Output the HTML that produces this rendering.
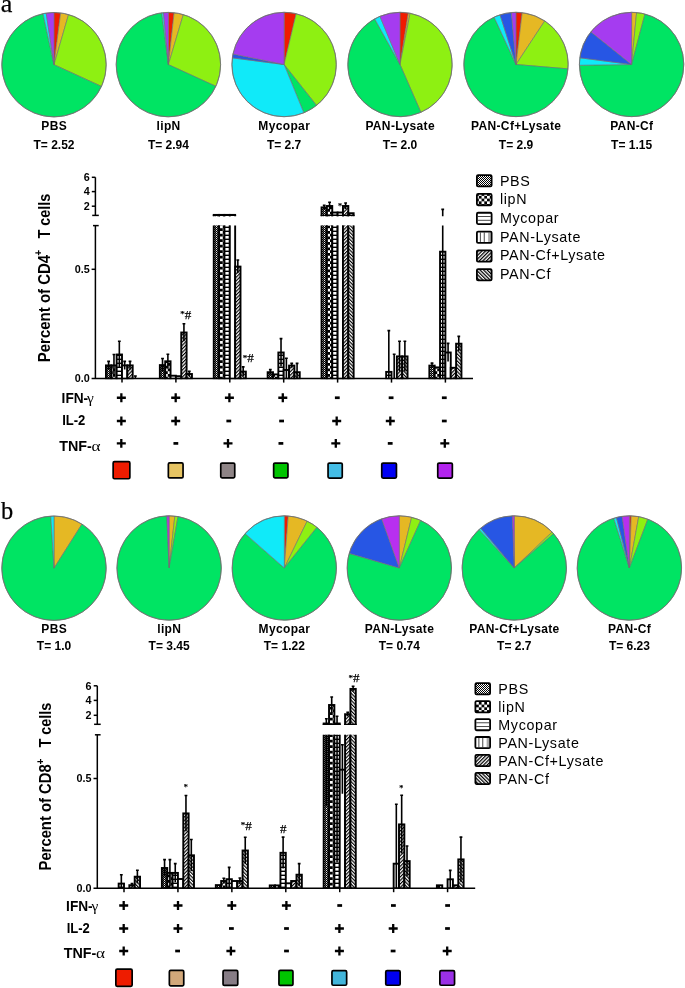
<!DOCTYPE html>
<html><head><meta charset="utf-8"><style>
html,body{margin:0;padding:0;background:#fff;}
svg{display:block;will-change:transform;}
text{font-family:"Liberation Sans",sans-serif;fill:#000;}
.pl{font-weight:bold;font-size:12px;text-anchor:middle;}
.tk{font-weight:bold;font-size:10.8px;text-anchor:end;}
.yl{font-weight:bold;font-size:16.6px;}
.ylp{font-weight:bold;font-size:10px;text-anchor:middle;}
.lg{font-size:14.3px;letter-spacing:0.65px;}
.rl{font-weight:bold;font-size:14.2px;}
.sym{font-family:"Liberation Serif",serif;font-weight:normal;font-size:15.5px;}
.an{font-family:"Liberation Serif",serif;font-size:11px;stroke:#000;stroke-width:0.25px;}
.big{font-family:"Liberation Serif",serif;font-size:23px;}
</style></head>
<body><svg width="685" height="988" viewBox="0 0 685 988">
<defs>
<pattern id="pPBS" width="2" height="2" patternUnits="userSpaceOnUse"><rect width="2" height="2" fill="#000"/><rect width="1" height="1" fill="#fff" opacity="0.9"/><rect x="1" y="1" width="1" height="1" fill="#fff" opacity="0.35"/></pattern>
<pattern id="pLip" width="5.5" height="5.5" patternUnits="userSpaceOnUse"><rect width="5.5" height="5.5" fill="#000"/><rect width="2.75" height="2.75" fill="#fff"/><rect x="2.75" y="2.75" width="2.75" height="2.75" fill="#fff"/></pattern>
<pattern id="pMyc" width="4" height="4" patternUnits="userSpaceOnUse"><rect width="4" height="4" fill="#fff"/><rect y="2.6" width="4" height="1.4" fill="#000"/></pattern>
<pattern id="pLys" width="4" height="4" patternUnits="userSpaceOnUse"><rect width="4" height="4" fill="#fff"/></pattern>
<pattern id="pCfL" width="2.5" height="2.5" patternUnits="userSpaceOnUse" patternTransform="rotate(45)"><rect width="2.5" height="2.5" fill="#fff"/><rect width="1.15" height="2.5" fill="#000"/></pattern>
<pattern id="pCf" width="2.5" height="2.5" patternUnits="userSpaceOnUse" patternTransform="rotate(-45)"><rect width="2.5" height="2.5" fill="#fff"/><rect width="1.15" height="2.5" fill="#000"/></pattern>
<pattern id="lpPBS" width="2" height="2" patternUnits="userSpaceOnUse"><rect width="2" height="2" fill="#fff"/><rect width="1" height="1" fill="#000"/><rect x="1" y="1" width="1" height="1" fill="#000"/></pattern>
<pattern id="lpLip" width="5.5" height="5.5" patternUnits="userSpaceOnUse" x="0.3" y="0.6"><rect width="5.5" height="5.5" fill="#000"/><rect width="2.75" height="2.75" fill="#fff"/><rect x="2.75" y="2.75" width="2.75" height="2.75" fill="#fff"/></pattern>
<pattern id="lpMyc" width="4" height="3.6" patternUnits="userSpaceOnUse"><rect width="4" height="3.6" fill="#fff"/><rect y="2.6" width="4" height="1" fill="#000"/></pattern>
<pattern id="lpLys" width="3.8" height="4" patternUnits="userSpaceOnUse"><rect width="3.8" height="4" fill="#fff"/><rect x="2.8" width="1" height="4" fill="#000"/></pattern>
<pattern id="lpCfL" width="2.55" height="2.55" patternUnits="userSpaceOnUse" patternTransform="rotate(45)"><rect width="2.55" height="2.55" fill="#fff"/><rect width="1.25" height="2.55" fill="#000"/></pattern>
<pattern id="lpCf" width="2.55" height="2.55" patternUnits="userSpaceOnUse" patternTransform="rotate(-45)"><rect width="2.55" height="2.55" fill="#fff"/><rect width="1.25" height="2.55" fill="#000"/></pattern>
</defs>
<text x="0.8" y="11.5" class="big" style="font-size:25.5px" textLength="11.6" lengthAdjust="spacingAndGlyphs" stroke="#000" stroke-width="0.25">a</text>
<path d="M54.00,64.70 L54.00,12.50 A52.2,52.2 0 0 1 60.63,12.92 Z" fill="#F01B00" stroke="#6e6e6e" stroke-width="0.6" stroke-linejoin="round"/>
<path d="M54.00,64.70 L60.63,12.92 A52.2,52.2 0 0 1 68.56,14.57 Z" fill="#E5B824" stroke="#6e6e6e" stroke-width="0.6" stroke-linejoin="round"/>
<path d="M54.00,64.70 L68.56,14.57 A52.2,52.2 0 0 1 101.46,86.43 Z" fill="#8EF012" stroke="#6e6e6e" stroke-width="0.6" stroke-linejoin="round"/>
<path d="M54.00,64.70 L101.46,86.43 A52.2,52.2 0 1 1 43.06,13.66 Z" fill="#00E463" stroke="#6e6e6e" stroke-width="0.6" stroke-linejoin="round"/>
<path d="M54.00,64.70 L43.06,13.66 A52.2,52.2 0 0 1 46.19,13.09 Z" fill="#10EAF9" stroke="#6e6e6e" stroke-width="0.6" stroke-linejoin="round"/>
<path d="M54.00,64.70 L46.19,13.09 A52.2,52.2 0 0 1 54.00,12.50 Z" fill="#A53CF0" stroke="#6e6e6e" stroke-width="0.6" stroke-linejoin="round"/>
<circle cx="54" cy="64.7" r="52.2" fill="none" stroke="#6e6e6e" stroke-width="0.8"/>
<text x="54.17" y="129.8" class="pl" letter-spacing="0.35">PBS</text>
<text x="54" y="148.9" class="pl">T= 2.52</text>
<path d="M168.40,64.60 L168.40,12.40 A52.2,52.2 0 0 1 174.13,12.72 Z" fill="#F01B00" stroke="#6e6e6e" stroke-width="0.6" stroke-linejoin="round"/>
<path d="M168.40,64.60 L174.13,12.72 A52.2,52.2 0 0 1 183.31,14.58 Z" fill="#E5B824" stroke="#6e6e6e" stroke-width="0.6" stroke-linejoin="round"/>
<path d="M168.40,64.60 L183.31,14.58 A52.2,52.2 0 0 1 215.86,86.33 Z" fill="#8EF012" stroke="#6e6e6e" stroke-width="0.6" stroke-linejoin="round"/>
<path d="M168.40,64.60 L215.86,86.33 A52.2,52.2 0 1 1 161.77,12.82 Z" fill="#00E463" stroke="#6e6e6e" stroke-width="0.6" stroke-linejoin="round"/>
<path d="M168.40,64.60 L161.77,12.82 A52.2,52.2 0 0 1 163.49,12.63 Z" fill="#10EAF9" stroke="#6e6e6e" stroke-width="0.6" stroke-linejoin="round"/>
<path d="M168.40,64.60 L163.49,12.63 A52.2,52.2 0 0 1 168.40,12.40 Z" fill="#A53CF0" stroke="#6e6e6e" stroke-width="0.6" stroke-linejoin="round"/>
<circle cx="168.4" cy="64.6" r="52.2" fill="none" stroke="#6e6e6e" stroke-width="0.8"/>
<text x="168.57" y="129.8" class="pl" letter-spacing="0.35">lipN</text>
<text x="168.4" y="148.9" class="pl">T= 2.94</text>
<path d="M284.10,64.50 L284.10,12.30 A52.2,52.2 0 0 1 296.20,13.72 Z" fill="#F01B00" stroke="#6e6e6e" stroke-width="0.6" stroke-linejoin="round"/>
<path d="M284.10,64.50 L296.20,13.72 A52.2,52.2 0 0 1 316.52,105.41 Z" fill="#8EF012" stroke="#6e6e6e" stroke-width="0.6" stroke-linejoin="round"/>
<path d="M284.10,64.50 L316.52,105.41 A52.2,52.2 0 0 1 303.82,112.83 Z" fill="#00E463" stroke="#6e6e6e" stroke-width="0.6" stroke-linejoin="round"/>
<path d="M284.10,64.50 L303.82,112.83 A52.2,52.2 0 0 1 232.32,57.87 Z" fill="#10EAF9" stroke="#6e6e6e" stroke-width="0.6" stroke-linejoin="round"/>
<path d="M284.10,64.50 L232.32,57.87 A52.2,52.2 0 0 1 232.97,54.00 Z" fill="#2756E4" stroke="#6e6e6e" stroke-width="0.6" stroke-linejoin="round"/>
<path d="M284.10,64.50 L232.97,54.00 A52.2,52.2 0 0 1 284.10,12.30 Z" fill="#A53CF0" stroke="#6e6e6e" stroke-width="0.6" stroke-linejoin="round"/>
<circle cx="284.1" cy="64.5" r="52.2" fill="none" stroke="#6e6e6e" stroke-width="0.8"/>
<text x="284.27" y="129.8" class="pl" letter-spacing="0.35">Mycopar</text>
<text x="284.1" y="148.9" class="pl">T= 2.7</text>
<path d="M400.00,64.50 L400.00,12.30 A52.2,52.2 0 0 1 408.35,12.97 Z" fill="#F01B00" stroke="#6e6e6e" stroke-width="0.6" stroke-linejoin="round"/>
<path d="M400.00,64.50 L408.35,12.97 A52.2,52.2 0 0 1 410.14,13.29 Z" fill="#E5B824" stroke="#6e6e6e" stroke-width="0.6" stroke-linejoin="round"/>
<path d="M400.00,64.50 L410.14,13.29 A52.2,52.2 0 0 1 420.90,112.33 Z" fill="#8EF012" stroke="#6e6e6e" stroke-width="0.6" stroke-linejoin="round"/>
<path d="M400.00,64.50 L420.90,112.33 A52.2,52.2 0 0 1 374.69,18.84 Z" fill="#00E463" stroke="#6e6e6e" stroke-width="0.6" stroke-linejoin="round"/>
<path d="M400.00,64.50 L374.69,18.84 A52.2,52.2 0 0 1 379.94,16.31 Z" fill="#10EAF9" stroke="#6e6e6e" stroke-width="0.6" stroke-linejoin="round"/>
<path d="M400.00,64.50 L379.94,16.31 A52.2,52.2 0 0 1 400.00,12.30 Z" fill="#A53CF0" stroke="#6e6e6e" stroke-width="0.6" stroke-linejoin="round"/>
<circle cx="400" cy="64.5" r="52.2" fill="none" stroke="#6e6e6e" stroke-width="0.8"/>
<text x="400.17" y="129.8" class="pl" letter-spacing="0.35">PAN-Lysate</text>
<text x="400" y="148.9" class="pl">T= 2.0</text>
<path d="M516.00,64.50 L516.00,12.30 A52.2,52.2 0 0 1 522.18,12.67 Z" fill="#F01B00" stroke="#6e6e6e" stroke-width="0.6" stroke-linejoin="round"/>
<path d="M516.00,64.50 L522.18,12.67 A52.2,52.2 0 0 1 544.74,20.92 Z" fill="#E5B824" stroke="#6e6e6e" stroke-width="0.6" stroke-linejoin="round"/>
<path d="M516.00,64.50 L544.74,20.92 A52.2,52.2 0 0 1 568.02,68.87 Z" fill="#8EF012" stroke="#6e6e6e" stroke-width="0.6" stroke-linejoin="round"/>
<path d="M516.00,64.50 L568.02,68.87 A52.2,52.2 0 1 1 494.10,17.11 Z" fill="#00E463" stroke="#6e6e6e" stroke-width="0.6" stroke-linejoin="round"/>
<path d="M516.00,64.50 L494.10,17.11 A52.2,52.2 0 0 1 500.04,14.80 Z" fill="#10EAF9" stroke="#6e6e6e" stroke-width="0.6" stroke-linejoin="round"/>
<path d="M516.00,64.50 L500.04,14.80 A52.2,52.2 0 0 1 511.36,12.51 Z" fill="#2756E4" stroke="#6e6e6e" stroke-width="0.6" stroke-linejoin="round"/>
<path d="M516.00,64.50 L511.36,12.51 A52.2,52.2 0 0 1 516.00,12.30 Z" fill="#A53CF0" stroke="#6e6e6e" stroke-width="0.6" stroke-linejoin="round"/>
<circle cx="516" cy="64.5" r="52.2" fill="none" stroke="#6e6e6e" stroke-width="0.8"/>
<text x="516.17" y="129.8" class="pl" letter-spacing="0.35">PAN-Cf+Lysate</text>
<text x="516" y="148.9" class="pl">T= 2.9</text>
<path d="M631.60,64.50 L631.60,12.30 A52.2,52.2 0 0 1 636.60,12.54 Z" fill="#E5B824" stroke="#6e6e6e" stroke-width="0.6" stroke-linejoin="round"/>
<path d="M631.60,64.50 L636.60,12.54 A52.2,52.2 0 0 1 644.93,14.03 Z" fill="#8EF012" stroke="#6e6e6e" stroke-width="0.6" stroke-linejoin="round"/>
<path d="M631.60,64.50 L644.93,14.03 A52.2,52.2 0 1 1 579.41,65.23 Z" fill="#00E463" stroke="#6e6e6e" stroke-width="0.6" stroke-linejoin="round"/>
<path d="M631.60,64.50 L579.41,65.23 A52.2,52.2 0 0 1 579.83,57.78 Z" fill="#10EAF9" stroke="#6e6e6e" stroke-width="0.6" stroke-linejoin="round"/>
<path d="M631.60,64.50 L579.83,57.78 A52.2,52.2 0 0 1 590.86,31.86 Z" fill="#2756E4" stroke="#6e6e6e" stroke-width="0.6" stroke-linejoin="round"/>
<path d="M631.60,64.50 L590.86,31.86 A52.2,52.2 0 0 1 631.60,12.30 Z" fill="#A53CF0" stroke="#6e6e6e" stroke-width="0.6" stroke-linejoin="round"/>
<circle cx="631.6" cy="64.5" r="52.2" fill="none" stroke="#6e6e6e" stroke-width="0.8"/>
<text x="631.77" y="129.8" class="pl" letter-spacing="0.35">PAN-Cf</text>
<text x="631.6" y="148.9" class="pl">T= 1.15</text>
<line x1="95.40" y1="225.60" x2="95.40" y2="378.60" stroke="#000" stroke-width="1.5"/>
<line x1="93.00" y1="225.60" x2="98.70" y2="225.60" stroke="#000" stroke-width="1.5"/>
<line x1="95.40" y1="177.30" x2="95.40" y2="215.40" stroke="#000" stroke-width="1.5"/>
<line x1="92.20" y1="215.40" x2="98.80" y2="215.40" stroke="#000" stroke-width="1.5"/>
<line x1="91.60" y1="378.60" x2="473.00" y2="378.60" stroke="#000" stroke-width="1.5"/>
<line x1="91.60" y1="269.30" x2="95.40" y2="269.30" stroke="#000" stroke-width="1.5"/>
<text x="89.7" y="382.30" class="tk">0.0</text>
<text x="89.7" y="273.00" class="tk">0.5</text>
<line x1="91.80" y1="206.20" x2="95.40" y2="206.20" stroke="#000" stroke-width="1.5"/>
<text x="89.7" y="209.90" class="tk">2</text>
<line x1="91.80" y1="191.60" x2="95.40" y2="191.60" stroke="#000" stroke-width="1.5"/>
<text x="89.7" y="195.30" class="tk">4</text>
<line x1="91.80" y1="177.30" x2="95.40" y2="177.30" stroke="#000" stroke-width="1.5"/>
<text x="89.7" y="181.00" class="tk">6</text>
<line x1="122.00" y1="378.60" x2="122.00" y2="382.60" stroke="#000" stroke-width="1.5"/>
<line x1="175.90" y1="378.60" x2="175.90" y2="382.60" stroke="#000" stroke-width="1.5"/>
<line x1="229.80" y1="378.60" x2="229.80" y2="382.60" stroke="#000" stroke-width="1.5"/>
<line x1="283.70" y1="378.60" x2="283.70" y2="382.60" stroke="#000" stroke-width="1.5"/>
<line x1="337.60" y1="378.60" x2="337.60" y2="382.60" stroke="#000" stroke-width="1.5"/>
<line x1="391.50" y1="378.60" x2="391.50" y2="382.60" stroke="#000" stroke-width="1.5"/>
<line x1="445.40" y1="378.60" x2="445.40" y2="382.60" stroke="#000" stroke-width="1.5"/>
<text transform="translate(49.9,362.3) rotate(-90)" class="yl" textLength="107.50" lengthAdjust="spacingAndGlyphs">Percent of CD4</text>
<text transform="translate(42.0,252.85) rotate(-90)" class="ylp">+</text>
<text transform="translate(49.9,238.6) rotate(-90)" class="yl" textLength="45.00" lengthAdjust="spacingAndGlyphs">T cells</text>
<clipPath id="cl1"><rect x="0" y="225.6" width="685" height="153.60"/></clipPath>
<clipPath id="cu1"><rect x="0" y="157.3" width="685" height="58.85"/></clipPath>
<g clip-path="url(#cl1)"><rect x="105.95" y="365.40" width="5.35" height="13.20" fill="url(#pPBS)" stroke="#000" stroke-width="1.9"/>
<rect x="111.30" y="365.40" width="5.35" height="13.20" fill="url(#pLip)" stroke="#000" stroke-width="1.9"/>
<rect x="116.65" y="354.50" width="5.35" height="24.10" fill="url(#pMyc)" stroke="#000" stroke-width="1.9"/>
<rect x="122.00" y="365.40" width="5.35" height="13.20" fill="url(#pLys)" stroke="#000" stroke-width="1.9"/>
<rect x="127.35" y="365.40" width="5.35" height="13.20" fill="url(#pCfL)" stroke="#000" stroke-width="1.9"/>
<rect x="132.70" y="378.60" width="5.35" height="0.00" fill="url(#pCf)" stroke="#000" stroke-width="1.9"/>
<rect x="159.85" y="365.10" width="5.35" height="13.50" fill="url(#pPBS)" stroke="#000" stroke-width="1.9"/>
<rect x="165.20" y="361.30" width="5.35" height="17.30" fill="url(#pLip)" stroke="#000" stroke-width="1.9"/>
<rect x="170.55" y="375.70" width="5.35" height="2.90" fill="url(#pMyc)" stroke="#000" stroke-width="1.9"/>
<rect x="175.90" y="376.20" width="5.35" height="2.40" fill="url(#pLys)" stroke="#000" stroke-width="1.9"/>
<rect x="181.25" y="332.50" width="5.35" height="46.10" fill="url(#pCfL)" stroke="#000" stroke-width="1.9"/>
<rect x="186.60" y="374.00" width="5.35" height="4.60" fill="url(#pCf)" stroke="#000" stroke-width="1.9"/>
<rect x="213.75" y="202.99" width="5.35" height="175.61" fill="url(#pPBS)" stroke="#000" stroke-width="1.9"/>
<rect x="219.10" y="202.99" width="5.35" height="175.61" fill="url(#pLip)" stroke="#000" stroke-width="1.9"/>
<rect x="224.45" y="202.99" width="5.35" height="175.61" fill="url(#pMyc)" stroke="#000" stroke-width="1.9"/>
<rect x="229.80" y="202.99" width="5.35" height="175.61" fill="url(#pLys)" stroke="#000" stroke-width="1.9"/>
<rect x="235.15" y="266.60" width="5.35" height="112.00" fill="url(#pCfL)" stroke="#000" stroke-width="1.9"/>
<rect x="240.50" y="371.60" width="5.35" height="7.00" fill="url(#pCf)" stroke="#000" stroke-width="1.9"/>
<rect x="267.65" y="372.20" width="5.35" height="6.40" fill="url(#pPBS)" stroke="#000" stroke-width="1.9"/>
<rect x="273.00" y="374.40" width="5.35" height="4.20" fill="url(#pLip)" stroke="#000" stroke-width="1.9"/>
<rect x="278.35" y="352.50" width="5.35" height="26.10" fill="url(#pMyc)" stroke="#000" stroke-width="1.9"/>
<rect x="283.70" y="370.00" width="5.35" height="8.60" fill="url(#pLys)" stroke="#000" stroke-width="1.9"/>
<rect x="289.05" y="365.60" width="5.35" height="13.00" fill="url(#pCfL)" stroke="#000" stroke-width="1.9"/>
<rect x="294.40" y="372.20" width="5.35" height="6.40" fill="url(#pCf)" stroke="#000" stroke-width="1.9"/>
<rect x="321.55" y="-24.08" width="5.35" height="402.68" fill="url(#pPBS)" stroke="#000" stroke-width="1.9"/>
<rect x="326.90" y="-66.47" width="5.35" height="445.07" fill="url(#pLip)" stroke="#000" stroke-width="1.9"/>
<rect x="332.25" y="130.33" width="5.35" height="248.27" fill="url(#pMyc)" stroke="#000" stroke-width="1.9"/>
<rect x="337.60" y="130.33" width="5.35" height="248.27" fill="url(#pLys)" stroke="#000" stroke-width="1.9"/>
<rect x="342.95" y="-66.47" width="5.35" height="445.07" fill="url(#pCfL)" stroke="#000" stroke-width="1.9"/>
<rect x="348.30" y="151.52" width="5.35" height="227.08" fill="url(#pCf)" stroke="#000" stroke-width="1.9"/>
<rect x="386.15" y="371.90" width="5.35" height="6.70" fill="url(#pMyc)" stroke="#000" stroke-width="1.9"/>
<rect x="391.50" y="378.60" width="5.35" height="0.00" fill="url(#pLys)" stroke="#000" stroke-width="1.9"/>
<rect x="396.85" y="356.40" width="5.35" height="22.20" fill="url(#pCfL)" stroke="#000" stroke-width="1.9"/>
<rect x="402.20" y="356.40" width="5.35" height="22.20" fill="url(#pCf)" stroke="#000" stroke-width="1.9"/>
<rect x="429.35" y="365.60" width="5.35" height="13.00" fill="url(#pPBS)" stroke="#000" stroke-width="1.9"/>
<rect x="434.70" y="367.40" width="5.35" height="11.20" fill="url(#pLip)" stroke="#000" stroke-width="1.9"/>
<rect x="440.05" y="251.70" width="5.35" height="126.90" fill="url(#pMyc)" stroke="#000" stroke-width="1.9"/>
<rect x="445.40" y="352.50" width="5.35" height="26.10" fill="url(#pLys)" stroke="#000" stroke-width="1.9"/>
<rect x="450.75" y="367.80" width="5.35" height="10.80" fill="url(#pCfL)" stroke="#000" stroke-width="1.9"/>
<rect x="456.10" y="343.70" width="5.35" height="34.90" fill="url(#pCf)" stroke="#000" stroke-width="1.9"/>
<line x1="108.62" y1="361.40" x2="108.62" y2="369.40" stroke="#000" stroke-width="1.6"/>
<line x1="107.22" y1="361.40" x2="110.03" y2="361.40" stroke="#000" stroke-width="1.6"/>
<line x1="113.97" y1="354.50" x2="113.97" y2="376.30" stroke="#000" stroke-width="1.6"/>
<line x1="112.57" y1="354.50" x2="115.38" y2="354.50" stroke="#000" stroke-width="1.6"/>
<line x1="119.33" y1="341.30" x2="119.33" y2="367.70" stroke="#000" stroke-width="1.6"/>
<line x1="117.92" y1="341.30" x2="120.73" y2="341.30" stroke="#000" stroke-width="1.6"/>
<line x1="124.67" y1="361.40" x2="124.67" y2="369.40" stroke="#000" stroke-width="1.6"/>
<line x1="123.27" y1="361.40" x2="126.08" y2="361.40" stroke="#000" stroke-width="1.6"/>
<line x1="130.03" y1="361.40" x2="130.03" y2="369.40" stroke="#000" stroke-width="1.6"/>
<line x1="128.62" y1="361.40" x2="131.43" y2="361.40" stroke="#000" stroke-width="1.6"/>
<line x1="135.38" y1="376.00" x2="135.38" y2="378.60" stroke="#000" stroke-width="1.6"/>
<line x1="133.97" y1="376.00" x2="136.78" y2="376.00" stroke="#000" stroke-width="1.6"/>
<line x1="162.53" y1="358.50" x2="162.53" y2="371.70" stroke="#000" stroke-width="1.6"/>
<line x1="161.13" y1="358.50" x2="163.93" y2="358.50" stroke="#000" stroke-width="1.6"/>
<line x1="167.88" y1="354.20" x2="167.88" y2="368.40" stroke="#000" stroke-width="1.6"/>
<line x1="166.48" y1="354.20" x2="169.28" y2="354.20" stroke="#000" stroke-width="1.6"/>
<line x1="183.93" y1="323.70" x2="183.93" y2="341.30" stroke="#000" stroke-width="1.6"/>
<line x1="182.53" y1="323.70" x2="185.33" y2="323.70" stroke="#000" stroke-width="1.6"/>
<line x1="189.28" y1="371.40" x2="189.28" y2="376.60" stroke="#000" stroke-width="1.6"/>
<line x1="187.88" y1="371.40" x2="190.68" y2="371.40" stroke="#000" stroke-width="1.6"/>
<line x1="237.83" y1="260.00" x2="237.83" y2="273.20" stroke="#000" stroke-width="1.6"/>
<line x1="236.43" y1="260.00" x2="239.23" y2="260.00" stroke="#000" stroke-width="1.6"/>
<line x1="243.18" y1="366.90" x2="243.18" y2="376.30" stroke="#000" stroke-width="1.6"/>
<line x1="241.78" y1="366.90" x2="244.58" y2="366.90" stroke="#000" stroke-width="1.6"/>
<line x1="270.32" y1="369.60" x2="270.32" y2="374.80" stroke="#000" stroke-width="1.6"/>
<line x1="268.93" y1="369.60" x2="271.72" y2="369.60" stroke="#000" stroke-width="1.6"/>
<line x1="281.02" y1="338.60" x2="281.02" y2="366.40" stroke="#000" stroke-width="1.6"/>
<line x1="279.62" y1="338.60" x2="282.42" y2="338.60" stroke="#000" stroke-width="1.6"/>
<line x1="286.38" y1="358.30" x2="286.38" y2="378.60" stroke="#000" stroke-width="1.6"/>
<line x1="284.98" y1="358.30" x2="287.77" y2="358.30" stroke="#000" stroke-width="1.6"/>
<line x1="291.72" y1="363.40" x2="291.72" y2="367.80" stroke="#000" stroke-width="1.6"/>
<line x1="290.32" y1="363.40" x2="293.12" y2="363.40" stroke="#000" stroke-width="1.6"/>
<line x1="297.07" y1="363.40" x2="297.07" y2="378.60" stroke="#000" stroke-width="1.6"/>
<line x1="295.68" y1="363.40" x2="298.47" y2="363.40" stroke="#000" stroke-width="1.6"/>
<line x1="324.23" y1="-90.69" x2="324.23" y2="42.53" stroke="#000" stroke-width="1.6"/>
<line x1="322.83" y1="-90.69" x2="325.62" y2="-90.69" stroke="#000" stroke-width="1.6"/>
<line x1="329.58" y1="-178.50" x2="329.58" y2="45.55" stroke="#000" stroke-width="1.6"/>
<line x1="328.18" y1="-178.50" x2="330.98" y2="-178.50" stroke="#000" stroke-width="1.6"/>
<line x1="345.62" y1="-157.30" x2="345.62" y2="24.36" stroke="#000" stroke-width="1.6"/>
<line x1="344.23" y1="-157.30" x2="347.02" y2="-157.30" stroke="#000" stroke-width="1.6"/>
<line x1="388.82" y1="330.60" x2="388.82" y2="378.60" stroke="#000" stroke-width="1.6"/>
<line x1="387.43" y1="330.60" x2="390.22" y2="330.60" stroke="#000" stroke-width="1.6"/>
<line x1="394.18" y1="354.20" x2="394.18" y2="378.60" stroke="#000" stroke-width="1.6"/>
<line x1="392.78" y1="354.20" x2="395.57" y2="354.20" stroke="#000" stroke-width="1.6"/>
<line x1="399.52" y1="341.30" x2="399.52" y2="371.50" stroke="#000" stroke-width="1.6"/>
<line x1="398.12" y1="341.30" x2="400.92" y2="341.30" stroke="#000" stroke-width="1.6"/>
<line x1="404.88" y1="341.30" x2="404.88" y2="371.50" stroke="#000" stroke-width="1.6"/>
<line x1="403.48" y1="341.30" x2="406.27" y2="341.30" stroke="#000" stroke-width="1.6"/>
<line x1="432.02" y1="363.10" x2="432.02" y2="368.10" stroke="#000" stroke-width="1.6"/>
<line x1="430.62" y1="363.10" x2="433.42" y2="363.10" stroke="#000" stroke-width="1.6"/>
<line x1="442.72" y1="36.47" x2="442.72" y2="378.60" stroke="#000" stroke-width="1.6"/>
<line x1="441.32" y1="36.47" x2="444.12" y2="36.47" stroke="#000" stroke-width="1.6"/>
<line x1="448.07" y1="343.40" x2="448.07" y2="361.60" stroke="#000" stroke-width="1.6"/>
<line x1="446.68" y1="343.40" x2="449.47" y2="343.40" stroke="#000" stroke-width="1.6"/>
<line x1="458.77" y1="336.40" x2="458.77" y2="351.00" stroke="#000" stroke-width="1.6"/>
<line x1="457.38" y1="336.40" x2="460.17" y2="336.40" stroke="#000" stroke-width="1.6"/></g>
<g clip-path="url(#cu1)"><rect x="213.75" y="214.90" width="5.35" height="163.70" fill="url(#pPBS)" stroke="#000" stroke-width="1.9"/>
<line x1="212.80" y1="215.40" x2="220.05" y2="215.40" stroke="#000" stroke-width="1.3"/>
<rect x="219.10" y="214.90" width="5.35" height="163.70" fill="url(#pLip)" stroke="#000" stroke-width="1.9"/>
<line x1="218.15" y1="215.40" x2="225.40" y2="215.40" stroke="#000" stroke-width="1.3"/>
<rect x="224.45" y="214.90" width="5.35" height="163.70" fill="url(#pMyc)" stroke="#000" stroke-width="1.9"/>
<line x1="223.50" y1="215.40" x2="230.75" y2="215.40" stroke="#000" stroke-width="1.3"/>
<rect x="229.80" y="214.90" width="5.35" height="163.70" fill="url(#pLys)" stroke="#000" stroke-width="1.9"/>
<line x1="228.85" y1="215.40" x2="236.10" y2="215.40" stroke="#000" stroke-width="1.3"/>
<rect x="321.55" y="207.40" width="5.35" height="171.20" fill="url(#pPBS)" stroke="#000" stroke-width="1.9"/>
<line x1="320.60" y1="215.40" x2="327.85" y2="215.40" stroke="#000" stroke-width="1.3"/>
<rect x="326.90" y="206.00" width="5.35" height="172.60" fill="url(#pLip)" stroke="#000" stroke-width="1.9"/>
<line x1="325.95" y1="215.40" x2="333.20" y2="215.40" stroke="#000" stroke-width="1.3"/>
<rect x="332.25" y="212.50" width="5.35" height="166.10" fill="url(#pMyc)" stroke="#000" stroke-width="1.9"/>
<line x1="331.30" y1="215.40" x2="338.55" y2="215.40" stroke="#000" stroke-width="1.3"/>
<rect x="337.60" y="212.50" width="5.35" height="166.10" fill="url(#pLys)" stroke="#000" stroke-width="1.9"/>
<line x1="336.65" y1="215.40" x2="343.90" y2="215.40" stroke="#000" stroke-width="1.3"/>
<rect x="342.95" y="206.00" width="5.35" height="172.60" fill="url(#pCfL)" stroke="#000" stroke-width="1.9"/>
<line x1="342.00" y1="215.40" x2="349.25" y2="215.40" stroke="#000" stroke-width="1.3"/>
<rect x="348.30" y="213.20" width="5.35" height="165.40" fill="url(#pCf)" stroke="#000" stroke-width="1.9"/>
<line x1="347.35" y1="215.40" x2="354.60" y2="215.40" stroke="#000" stroke-width="1.3"/>
<line x1="324.23" y1="205.20" x2="324.23" y2="209.60" stroke="#000" stroke-width="1.6"/>
<line x1="322.83" y1="205.20" x2="325.62" y2="205.20" stroke="#000" stroke-width="1.6"/>
<line x1="329.58" y1="202.30" x2="329.58" y2="209.70" stroke="#000" stroke-width="1.6"/>
<line x1="328.18" y1="202.30" x2="330.98" y2="202.30" stroke="#000" stroke-width="1.6"/>
<line x1="345.62" y1="203.00" x2="345.62" y2="209.00" stroke="#000" stroke-width="1.6"/>
<line x1="344.23" y1="203.00" x2="347.02" y2="203.00" stroke="#000" stroke-width="1.6"/>
<line x1="442.72" y1="209.40" x2="442.72" y2="220.70" stroke="#000" stroke-width="1.6"/>
<line x1="441.32" y1="209.40" x2="444.12" y2="209.40" stroke="#000" stroke-width="1.6"/></g>
<text x="180.20" y="317.20" class="an" style="font-size:9px">*</text><text x="184.70" y="318.80" class="an" style="font-size:13px">#</text>
<text x="242.80" y="360.60" class="an" style="font-size:9px">*</text><text x="247.30" y="362.20" class="an" style="font-size:13px">#</text>
<text x="338.10" y="208.70" class="an" style="font-size:8.2px">*</text>
<rect x="476.9" y="175.15" width="14.7" height="11.299999999999999" rx="1.2" fill="url(#lpPBS)"/>
<rect x="476.9" y="175.15" width="14.7" height="11.299999999999999" rx="1.2" fill="none" stroke="#000" stroke-width="1.8"/>
<text x="499.9" y="185.70" class="lg">PBS</text>
<rect x="476.9" y="193.95" width="14.7" height="11.299999999999999" rx="1.2" fill="url(#lpLip)"/>
<rect x="476.9" y="193.95" width="14.7" height="11.299999999999999" rx="1.2" fill="none" stroke="#000" stroke-width="1.8"/>
<text x="499.9" y="204.36" class="lg">lipN</text>
<rect x="476.9" y="212.75" width="14.7" height="11.299999999999999" rx="1.2" fill="#fff"/>
<line x1="477.80" y1="216.50" x2="490.70" y2="216.50" stroke="#333" stroke-width="0.9"/>
<line x1="477.80" y1="220.30" x2="490.70" y2="220.30" stroke="#333" stroke-width="0.9"/>
<rect x="476.9" y="212.75" width="14.7" height="11.299999999999999" rx="1.2" fill="none" stroke="#000" stroke-width="1.8"/>
<text x="499.9" y="223.02" class="lg">Mycopar</text>
<rect x="476.9" y="231.55" width="14.7" height="11.299999999999999" rx="1.2" fill="#fff"/>
<line x1="480.38" y1="232.45" x2="480.38" y2="241.95" stroke="#333" stroke-width="0.9"/>
<line x1="484.25" y1="232.45" x2="484.25" y2="241.95" stroke="#333" stroke-width="0.9"/>
<rect x="488.12" y="232.45" width="2.58" height="9.50" fill="#aaa"/>
<rect x="476.9" y="231.55" width="14.7" height="11.299999999999999" rx="1.2" fill="none" stroke="#000" stroke-width="1.8"/>
<text x="499.9" y="241.68" class="lg">PAN-Lysate</text>
<rect x="476.9" y="250.35" width="14.7" height="11.299999999999999" rx="1.2" fill="url(#lpCfL)"/>
<rect x="476.9" y="250.35" width="14.7" height="11.299999999999999" rx="1.2" fill="none" stroke="#000" stroke-width="1.8"/>
<text x="499.9" y="260.34" class="lg">PAN-Cf+Lysate</text>
<rect x="476.9" y="269.15" width="14.7" height="11.299999999999999" rx="1.2" fill="url(#lpCf)"/>
<rect x="476.9" y="269.15" width="14.7" height="11.299999999999999" rx="1.2" fill="none" stroke="#000" stroke-width="1.8"/>
<text x="499.9" y="279.00" class="lg">PAN-Cf</text>
<text x="61.60" y="403.45" class="rl" textLength="26.6" lengthAdjust="spacingAndGlyphs">IFN-</text>
<text x="87.00" y="403.45" class="sym" textLength="6.8" lengthAdjust="spacingAndGlyphs">γ</text>
<path d="M116.85,397.75H125.85M121.35,393.35V402.15" stroke="#000" stroke-width="2.3" fill="none"/>
<path d="M171.20,397.75H180.20M175.70,393.35V402.15" stroke="#000" stroke-width="2.3" fill="none"/>
<path d="M224.90,397.75H233.90M229.40,393.35V402.15" stroke="#000" stroke-width="2.3" fill="none"/>
<path d="M278.30,397.75H287.30M282.80,393.35V402.15" stroke="#000" stroke-width="2.3" fill="none"/>
<rect x="334.90" y="396.40" width="4.8" height="2.7" fill="#000"/>
<rect x="388.70" y="396.40" width="4.8" height="2.7" fill="#000"/>
<rect x="441.90" y="396.40" width="4.8" height="2.7" fill="#000"/>
<text x="62.20" y="425.3" class="rl" textLength="23.2" lengthAdjust="spacingAndGlyphs">IL-2</text>
<path d="M116.85,421.00H125.85M121.35,416.60V425.40" stroke="#000" stroke-width="2.3" fill="none"/>
<path d="M171.20,421.00H180.20M175.70,416.60V425.40" stroke="#000" stroke-width="2.3" fill="none"/>
<rect x="226.40" y="419.65" width="4.8" height="2.7" fill="#000"/>
<rect x="279.20" y="419.65" width="4.8" height="2.7" fill="#000"/>
<path d="M332.20,421.00H341.20M336.70,416.60V425.40" stroke="#000" stroke-width="2.3" fill="none"/>
<path d="M385.80,421.00H394.80M390.30,416.60V425.40" stroke="#000" stroke-width="2.3" fill="none"/>
<rect x="441.90" y="419.65" width="4.8" height="2.7" fill="#000"/>
<text x="59.20" y="451.0" class="rl" textLength="32.6" lengthAdjust="spacingAndGlyphs">TNF-</text>
<text x="91.60" y="451.0" class="sym" textLength="9.0" lengthAdjust="spacingAndGlyphs">α</text>
<path d="M116.80,443.40H125.80M121.30,439.00V447.80" stroke="#000" stroke-width="2.3" fill="none"/>
<rect x="173.45" y="442.05" width="4.8" height="2.7" fill="#000"/>
<path d="M223.50,443.40H232.50M228.00,439.00V447.80" stroke="#000" stroke-width="2.3" fill="none"/>
<rect x="278.50" y="442.05" width="4.8" height="2.7" fill="#000"/>
<path d="M331.30,443.40H340.30M335.80,439.00V447.80" stroke="#000" stroke-width="2.3" fill="none"/>
<rect x="387.80" y="442.05" width="4.8" height="2.7" fill="#000"/>
<path d="M440.30,443.40H449.30M444.80,439.00V447.80" stroke="#000" stroke-width="2.3" fill="none"/>
<rect x="113.15" y="461.65" width="16.70" height="17.10" rx="1.3" fill="#EE1C00" stroke="#000" stroke-width="1.7"/>
<rect x="168.35" y="462.95" width="14.70" height="15.00" rx="1.3" fill="#E6C463" stroke="#000" stroke-width="1.7"/>
<rect x="220.75" y="463.05" width="14.00" height="14.80" rx="1.3" fill="#8E8486" stroke="#000" stroke-width="1.7"/>
<rect x="273.65" y="463.05" width="14.30" height="14.80" rx="1.3" fill="#00C400" stroke="#000" stroke-width="1.7"/>
<rect x="328.05" y="463.05" width="14.20" height="15.00" rx="1.3" fill="#44BDE6" stroke="#000" stroke-width="1.7"/>
<rect x="381.75" y="463.05" width="14.70" height="15.00" rx="1.3" fill="#0000F4" stroke="#000" stroke-width="1.7"/>
<rect x="437.75" y="463.05" width="14.60" height="15.00" rx="1.3" fill="#B324EE" stroke="#000" stroke-width="1.7"/>
<text x="1.1" y="518.6" class="big" style="font-size:26.2px" textLength="12.2" lengthAdjust="spacingAndGlyphs" stroke="#000" stroke-width="0.25">b</text>
<path d="M54.00,568.20 L54.00,516.00 A52.2,52.2 0 0 1 81.97,524.13 Z" fill="#E5B824" stroke="#6e6e6e" stroke-width="0.6" stroke-linejoin="round"/>
<path d="M54.00,568.20 L81.97,524.13 A52.2,52.2 0 1 1 50.81,516.10 Z" fill="#00E463" stroke="#6e6e6e" stroke-width="0.6" stroke-linejoin="round"/>
<path d="M54.00,568.20 L50.81,516.10 A52.2,52.2 0 0 1 54.00,516.00 Z" fill="#10EAF9" stroke="#6e6e6e" stroke-width="0.6" stroke-linejoin="round"/>
<circle cx="54" cy="568.2" r="52.2" fill="none" stroke="#6e6e6e" stroke-width="0.8"/>
<text x="54.17" y="632.8" class="pl" letter-spacing="0.35">PBS</text>
<text x="54" y="649.6" class="pl">T= 1.0</text>
<path d="M169.10,568.00 L169.10,515.80 A52.2,52.2 0 0 1 174.83,516.12 Z" fill="#E5B824" stroke="#6e6e6e" stroke-width="0.6" stroke-linejoin="round"/>
<path d="M169.10,568.00 L174.83,516.12 A52.2,52.2 0 0 1 177.98,516.56 Z" fill="#8EF012" stroke="#6e6e6e" stroke-width="0.6" stroke-linejoin="round"/>
<path d="M169.10,568.00 L177.98,516.56 A52.2,52.2 0 1 1 166.82,515.85 Z" fill="#00E463" stroke="#6e6e6e" stroke-width="0.6" stroke-linejoin="round"/>
<path d="M169.10,568.00 L166.82,515.85 A52.2,52.2 0 0 1 169.10,515.80 Z" fill="#B82FF0" stroke="#6e6e6e" stroke-width="0.6" stroke-linejoin="round"/>
<circle cx="169.1" cy="568.0" r="52.2" fill="none" stroke="#6e6e6e" stroke-width="0.8"/>
<text x="169.27" y="632.8" class="pl" letter-spacing="0.35">lipN</text>
<text x="169.1" y="649.6" class="pl">T= 3.45</text>
<path d="M284.30,568.00 L284.30,515.80 A52.2,52.2 0 0 1 288.21,515.95 Z" fill="#F01B00" stroke="#6e6e6e" stroke-width="0.6" stroke-linejoin="round"/>
<path d="M284.30,568.00 L288.21,515.95 A52.2,52.2 0 0 1 307.18,521.08 Z" fill="#E5B824" stroke="#6e6e6e" stroke-width="0.6" stroke-linejoin="round"/>
<path d="M284.30,568.00 L307.18,521.08 A52.2,52.2 0 0 1 316.94,527.26 Z" fill="#8EF012" stroke="#6e6e6e" stroke-width="0.6" stroke-linejoin="round"/>
<path d="M284.30,568.00 L316.94,527.26 A52.2,52.2 0 1 1 245.08,533.55 Z" fill="#00E463" stroke="#6e6e6e" stroke-width="0.6" stroke-linejoin="round"/>
<path d="M284.30,568.00 L245.08,533.55 A52.2,52.2 0 0 1 284.30,515.80 Z" fill="#10EAF9" stroke="#6e6e6e" stroke-width="0.6" stroke-linejoin="round"/>
<circle cx="284.3" cy="568.0" r="52.2" fill="none" stroke="#6e6e6e" stroke-width="0.8"/>
<text x="284.47" y="632.8" class="pl" letter-spacing="0.35">Mycopar</text>
<text x="284.3" y="649.6" class="pl">T= 1.22</text>
<path d="M399.30,568.00 L399.30,515.80 A52.2,52.2 0 0 1 411.66,517.29 Z" fill="#E5B824" stroke="#6e6e6e" stroke-width="0.6" stroke-linejoin="round"/>
<path d="M399.30,568.00 L411.66,517.29 A52.2,52.2 0 0 1 420.70,520.39 Z" fill="#8EF012" stroke="#6e6e6e" stroke-width="0.6" stroke-linejoin="round"/>
<path d="M399.30,568.00 L420.70,520.39 A52.2,52.2 0 1 1 349.20,553.35 Z" fill="#00E463" stroke="#6e6e6e" stroke-width="0.6" stroke-linejoin="round"/>
<path d="M399.30,568.00 L349.20,553.35 A52.2,52.2 0 0 1 381.70,518.86 Z" fill="#2756E4" stroke="#6e6e6e" stroke-width="0.6" stroke-linejoin="round"/>
<path d="M399.30,568.00 L381.70,518.86 A52.2,52.2 0 0 1 399.30,515.80 Z" fill="#B82FF0" stroke="#6e6e6e" stroke-width="0.6" stroke-linejoin="round"/>
<circle cx="399.3" cy="568.0" r="52.2" fill="none" stroke="#6e6e6e" stroke-width="0.8"/>
<text x="399.47" y="632.8" class="pl" letter-spacing="0.35">PAN-Lysate</text>
<text x="399.3" y="649.6" class="pl">T= 0.74</text>
<path d="M514.30,568.00 L514.30,515.80 A52.2,52.2 0 0 1 552.10,532.00 Z" fill="#E5B824" stroke="#6e6e6e" stroke-width="0.6" stroke-linejoin="round"/>
<path d="M514.30,568.00 L552.10,532.00 A52.2,52.2 0 0 1 553.58,533.62 Z" fill="#8EF012" stroke="#6e6e6e" stroke-width="0.6" stroke-linejoin="round"/>
<path d="M514.30,568.00 L553.58,533.62 A52.2,52.2 0 1 1 479.17,529.39 Z" fill="#00E463" stroke="#6e6e6e" stroke-width="0.6" stroke-linejoin="round"/>
<path d="M514.30,568.00 L479.17,529.39 A52.2,52.2 0 0 1 480.61,528.13 Z" fill="#10EAF9" stroke="#6e6e6e" stroke-width="0.6" stroke-linejoin="round"/>
<path d="M514.30,568.00 L480.61,528.13 A52.2,52.2 0 0 1 512.48,515.83 Z" fill="#2756E4" stroke="#6e6e6e" stroke-width="0.6" stroke-linejoin="round"/>
<path d="M514.30,568.00 L512.48,515.83 A52.2,52.2 0 0 1 514.30,515.80 Z" fill="#B82FF0" stroke="#6e6e6e" stroke-width="0.6" stroke-linejoin="round"/>
<circle cx="514.3" cy="568.0" r="52.2" fill="none" stroke="#6e6e6e" stroke-width="0.8"/>
<text x="514.47" y="632.8" class="pl" letter-spacing="0.35">PAN-Cf+Lysate</text>
<text x="514.3" y="649.6" class="pl">T= 2.7</text>
<path d="M629.40,568.00 L629.40,515.80 A52.2,52.2 0 0 1 631.22,515.83 Z" fill="#F01B00" stroke="#6e6e6e" stroke-width="0.6" stroke-linejoin="round"/>
<path d="M629.40,568.00 L631.22,515.83 A52.2,52.2 0 0 1 638.73,516.64 Z" fill="#E5B824" stroke="#6e6e6e" stroke-width="0.6" stroke-linejoin="round"/>
<path d="M629.40,568.00 L638.73,516.64 A52.2,52.2 0 0 1 647.85,519.17 Z" fill="#8EF012" stroke="#6e6e6e" stroke-width="0.6" stroke-linejoin="round"/>
<path d="M629.40,568.00 L647.85,519.17 A52.2,52.2 0 1 1 613.79,518.19 Z" fill="#00E463" stroke="#6e6e6e" stroke-width="0.6" stroke-linejoin="round"/>
<path d="M629.40,568.00 L613.79,518.19 A52.2,52.2 0 0 1 616.42,517.44 Z" fill="#10EAF9" stroke="#6e6e6e" stroke-width="0.6" stroke-linejoin="round"/>
<path d="M629.40,568.00 L616.42,517.44 A52.2,52.2 0 0 1 622.14,516.31 Z" fill="#2756E4" stroke="#6e6e6e" stroke-width="0.6" stroke-linejoin="round"/>
<path d="M629.40,568.00 L622.14,516.31 A52.2,52.2 0 0 1 629.40,515.80 Z" fill="#B82FF0" stroke="#6e6e6e" stroke-width="0.6" stroke-linejoin="round"/>
<circle cx="629.4" cy="568.0" r="52.2" fill="none" stroke="#6e6e6e" stroke-width="0.8"/>
<text x="629.57" y="632.8" class="pl" letter-spacing="0.35">PAN-Cf</text>
<text x="629.4" y="649.6" class="pl">T= 6.23</text>
<line x1="97.30" y1="734.80" x2="97.30" y2="888.20" stroke="#000" stroke-width="1.5"/>
<line x1="94.90" y1="734.80" x2="100.60" y2="734.80" stroke="#000" stroke-width="1.5"/>
<line x1="97.30" y1="685.80" x2="97.30" y2="724.30" stroke="#000" stroke-width="1.5"/>
<line x1="94.10" y1="724.30" x2="100.70" y2="724.30" stroke="#000" stroke-width="1.5"/>
<line x1="93.50" y1="888.20" x2="475.20" y2="888.20" stroke="#000" stroke-width="1.5"/>
<line x1="93.50" y1="778.50" x2="97.30" y2="778.50" stroke="#000" stroke-width="1.5"/>
<text x="91.6" y="891.90" class="tk">0.0</text>
<text x="91.6" y="782.20" class="tk">0.5</text>
<line x1="93.70" y1="715.30" x2="97.30" y2="715.30" stroke="#000" stroke-width="1.5"/>
<text x="91.6" y="719.00" class="tk">2</text>
<line x1="93.70" y1="700.40" x2="97.30" y2="700.40" stroke="#000" stroke-width="1.5"/>
<text x="91.6" y="704.10" class="tk">4</text>
<line x1="93.70" y1="685.80" x2="97.30" y2="685.80" stroke="#000" stroke-width="1.5"/>
<text x="91.6" y="689.50" class="tk">6</text>
<line x1="124.00" y1="888.20" x2="124.00" y2="892.20" stroke="#000" stroke-width="1.5"/>
<line x1="177.93" y1="888.20" x2="177.93" y2="892.20" stroke="#000" stroke-width="1.5"/>
<line x1="231.86" y1="888.20" x2="231.86" y2="892.20" stroke="#000" stroke-width="1.5"/>
<line x1="285.79" y1="888.20" x2="285.79" y2="892.20" stroke="#000" stroke-width="1.5"/>
<line x1="339.72" y1="888.20" x2="339.72" y2="892.20" stroke="#000" stroke-width="1.5"/>
<line x1="393.65" y1="888.20" x2="393.65" y2="892.20" stroke="#000" stroke-width="1.5"/>
<line x1="447.58" y1="888.20" x2="447.58" y2="892.20" stroke="#000" stroke-width="1.5"/>
<text transform="translate(51.4,870.5) rotate(-90)" class="yl" textLength="106.20" lengthAdjust="spacingAndGlyphs">Percent of CD8</text>
<text transform="translate(43.9,761.5) rotate(-90)" class="ylp">+</text>
<text transform="translate(51.4,747.6) rotate(-90)" class="yl" textLength="45.00" lengthAdjust="spacingAndGlyphs">T cells</text>
<clipPath id="cl2"><rect x="0" y="734.8" width="685" height="154.00"/></clipPath>
<clipPath id="cu2"><rect x="0" y="665.8" width="685" height="59.25"/></clipPath>
<g clip-path="url(#cl2)"><rect x="118.65" y="883.60" width="5.35" height="4.60" fill="url(#pMyc)" stroke="#000" stroke-width="1.9"/>
<rect x="129.35" y="885.20" width="5.35" height="3.00" fill="url(#pCfL)" stroke="#000" stroke-width="1.9"/>
<rect x="134.70" y="876.70" width="5.35" height="11.50" fill="url(#pCf)" stroke="#000" stroke-width="1.9"/>
<rect x="161.88" y="868.00" width="5.35" height="20.20" fill="url(#pPBS)" stroke="#000" stroke-width="1.9"/>
<rect x="167.23" y="872.90" width="5.35" height="15.30" fill="url(#pLip)" stroke="#000" stroke-width="1.9"/>
<rect x="172.58" y="872.90" width="5.35" height="15.30" fill="url(#pMyc)" stroke="#000" stroke-width="1.9"/>
<rect x="177.93" y="879.00" width="5.35" height="9.20" fill="url(#pLys)" stroke="#000" stroke-width="1.9"/>
<rect x="183.28" y="813.40" width="5.35" height="74.80" fill="url(#pCfL)" stroke="#000" stroke-width="1.9"/>
<rect x="188.63" y="855.30" width="5.35" height="32.90" fill="url(#pCf)" stroke="#000" stroke-width="1.9"/>
<rect x="215.81" y="885.10" width="5.35" height="3.10" fill="url(#pPBS)" stroke="#000" stroke-width="1.9"/>
<rect x="221.16" y="881.00" width="5.35" height="7.20" fill="url(#pLip)" stroke="#000" stroke-width="1.9"/>
<rect x="226.51" y="879.20" width="5.35" height="9.00" fill="url(#pMyc)" stroke="#000" stroke-width="1.9"/>
<rect x="231.86" y="881.00" width="5.35" height="7.20" fill="url(#pLys)" stroke="#000" stroke-width="1.9"/>
<rect x="237.21" y="881.00" width="5.35" height="7.20" fill="url(#pCfL)" stroke="#000" stroke-width="1.9"/>
<rect x="242.56" y="850.50" width="5.35" height="37.70" fill="url(#pCf)" stroke="#000" stroke-width="1.9"/>
<rect x="269.74" y="885.40" width="5.35" height="2.80" fill="url(#pPBS)" stroke="#000" stroke-width="1.9"/>
<rect x="275.09" y="885.40" width="5.35" height="2.80" fill="url(#pLip)" stroke="#000" stroke-width="1.9"/>
<rect x="280.44" y="852.80" width="5.35" height="35.40" fill="url(#pMyc)" stroke="#000" stroke-width="1.9"/>
<rect x="285.79" y="883.30" width="5.35" height="4.90" fill="url(#pLys)" stroke="#000" stroke-width="1.9"/>
<rect x="291.14" y="881.00" width="5.35" height="7.20" fill="url(#pCfL)" stroke="#000" stroke-width="1.9"/>
<rect x="296.49" y="874.70" width="5.35" height="13.50" fill="url(#pCf)" stroke="#000" stroke-width="1.9"/>
<rect x="323.67" y="697.16" width="5.35" height="191.04" fill="url(#pPBS)" stroke="#000" stroke-width="1.9"/>
<rect x="329.02" y="144.93" width="5.35" height="743.27" fill="url(#pLip)" stroke="#000" stroke-width="1.9"/>
<rect x="334.37" y="697.16" width="5.35" height="191.04" fill="url(#pMyc)" stroke="#000" stroke-width="1.9"/>
<rect x="339.72" y="769.70" width="5.35" height="118.50" fill="url(#pLys)" stroke="#000" stroke-width="1.9"/>
<rect x="345.07" y="419.55" width="5.35" height="468.65" fill="url(#pCfL)" stroke="#000" stroke-width="1.9"/>
<rect x="350.42" y="-335.66" width="5.35" height="1223.86" fill="url(#pCf)" stroke="#000" stroke-width="1.9"/>
<rect x="393.65" y="863.70" width="5.35" height="24.50" fill="url(#pLys)" stroke="#000" stroke-width="1.9"/>
<rect x="399.00" y="824.40" width="5.35" height="63.80" fill="url(#pCfL)" stroke="#000" stroke-width="1.9"/>
<rect x="404.35" y="861.10" width="5.35" height="27.10" fill="url(#pCf)" stroke="#000" stroke-width="1.9"/>
<rect x="436.88" y="885.30" width="5.35" height="2.90" fill="url(#pLip)" stroke="#000" stroke-width="1.9"/>
<rect x="447.58" y="879.30" width="5.35" height="8.90" fill="url(#pLys)" stroke="#000" stroke-width="1.9"/>
<rect x="452.93" y="885.30" width="5.35" height="2.90" fill="url(#pCfL)" stroke="#000" stroke-width="1.9"/>
<rect x="458.28" y="859.40" width="5.35" height="28.80" fill="url(#pCf)" stroke="#000" stroke-width="1.9"/>
<line x1="121.33" y1="874.70" x2="121.33" y2="888.20" stroke="#000" stroke-width="1.6"/>
<line x1="119.92" y1="874.70" x2="122.73" y2="874.70" stroke="#000" stroke-width="1.6"/>
<line x1="132.03" y1="883.60" x2="132.03" y2="886.80" stroke="#000" stroke-width="1.6"/>
<line x1="130.62" y1="883.60" x2="133.43" y2="883.60" stroke="#000" stroke-width="1.6"/>
<line x1="137.38" y1="870.20" x2="137.38" y2="883.20" stroke="#000" stroke-width="1.6"/>
<line x1="135.97" y1="870.20" x2="138.78" y2="870.20" stroke="#000" stroke-width="1.6"/>
<line x1="164.56" y1="859.60" x2="164.56" y2="876.40" stroke="#000" stroke-width="1.6"/>
<line x1="163.16" y1="859.60" x2="165.96" y2="859.60" stroke="#000" stroke-width="1.6"/>
<line x1="169.91" y1="859.60" x2="169.91" y2="886.20" stroke="#000" stroke-width="1.6"/>
<line x1="168.50" y1="859.60" x2="171.31" y2="859.60" stroke="#000" stroke-width="1.6"/>
<line x1="175.25" y1="863.60" x2="175.25" y2="882.20" stroke="#000" stroke-width="1.6"/>
<line x1="173.85" y1="863.60" x2="176.66" y2="863.60" stroke="#000" stroke-width="1.6"/>
<line x1="185.96" y1="795.50" x2="185.96" y2="831.30" stroke="#000" stroke-width="1.6"/>
<line x1="184.56" y1="795.50" x2="187.36" y2="795.50" stroke="#000" stroke-width="1.6"/>
<line x1="191.31" y1="839.50" x2="191.31" y2="871.10" stroke="#000" stroke-width="1.6"/>
<line x1="189.91" y1="839.50" x2="192.71" y2="839.50" stroke="#000" stroke-width="1.6"/>
<line x1="223.84" y1="878.30" x2="223.84" y2="883.70" stroke="#000" stroke-width="1.6"/>
<line x1="222.44" y1="878.30" x2="225.24" y2="878.30" stroke="#000" stroke-width="1.6"/>
<line x1="229.19" y1="867.40" x2="229.19" y2="888.20" stroke="#000" stroke-width="1.6"/>
<line x1="227.78" y1="867.40" x2="230.59" y2="867.40" stroke="#000" stroke-width="1.6"/>
<line x1="239.89" y1="878.00" x2="239.89" y2="884.00" stroke="#000" stroke-width="1.6"/>
<line x1="238.49" y1="878.00" x2="241.29" y2="878.00" stroke="#000" stroke-width="1.6"/>
<line x1="245.24" y1="837.30" x2="245.24" y2="863.70" stroke="#000" stroke-width="1.6"/>
<line x1="243.84" y1="837.30" x2="246.64" y2="837.30" stroke="#000" stroke-width="1.6"/>
<line x1="283.11" y1="837.10" x2="283.11" y2="868.50" stroke="#000" stroke-width="1.6"/>
<line x1="281.71" y1="837.10" x2="284.51" y2="837.10" stroke="#000" stroke-width="1.6"/>
<line x1="299.16" y1="863.60" x2="299.16" y2="885.80" stroke="#000" stroke-width="1.6"/>
<line x1="297.76" y1="863.60" x2="300.56" y2="863.60" stroke="#000" stroke-width="1.6"/>
<line x1="326.35" y1="556.86" x2="326.35" y2="806.60" stroke="#000" stroke-width="1.6"/>
<line x1="324.95" y1="556.86" x2="327.75" y2="556.86" stroke="#000" stroke-width="1.6"/>
<line x1="331.70" y1="-93.88" x2="331.70" y2="383.73" stroke="#000" stroke-width="1.6"/>
<line x1="330.30" y1="-93.88" x2="333.10" y2="-93.88" stroke="#000" stroke-width="1.6"/>
<line x1="337.05" y1="479.25" x2="337.05" y2="862.50" stroke="#000" stroke-width="1.6"/>
<line x1="335.65" y1="479.25" x2="338.44" y2="479.25" stroke="#000" stroke-width="1.6"/>
<line x1="342.40" y1="744.80" x2="342.40" y2="793.70" stroke="#000" stroke-width="1.6"/>
<line x1="341.00" y1="744.80" x2="343.80" y2="744.80" stroke="#000" stroke-width="1.6"/>
<line x1="347.75" y1="359.85" x2="347.75" y2="479.25" stroke="#000" stroke-width="1.6"/>
<line x1="346.35" y1="359.85" x2="349.14" y2="359.85" stroke="#000" stroke-width="1.6"/>
<line x1="353.10" y1="-413.27" x2="353.10" y2="-258.05" stroke="#000" stroke-width="1.6"/>
<line x1="351.70" y1="-413.27" x2="354.50" y2="-413.27" stroke="#000" stroke-width="1.6"/>
<line x1="396.32" y1="804.20" x2="396.32" y2="888.20" stroke="#000" stroke-width="1.6"/>
<line x1="394.93" y1="804.20" x2="397.72" y2="804.20" stroke="#000" stroke-width="1.6"/>
<line x1="401.67" y1="795.30" x2="401.67" y2="853.50" stroke="#000" stroke-width="1.6"/>
<line x1="400.27" y1="795.30" x2="403.07" y2="795.30" stroke="#000" stroke-width="1.6"/>
<line x1="407.02" y1="846.00" x2="407.02" y2="876.20" stroke="#000" stroke-width="1.6"/>
<line x1="405.62" y1="846.00" x2="408.42" y2="846.00" stroke="#000" stroke-width="1.6"/>
<line x1="450.25" y1="870.40" x2="450.25" y2="888.20" stroke="#000" stroke-width="1.6"/>
<line x1="448.86" y1="870.40" x2="451.65" y2="870.40" stroke="#000" stroke-width="1.6"/>
<line x1="460.95" y1="837.10" x2="460.95" y2="881.70" stroke="#000" stroke-width="1.6"/>
<line x1="459.56" y1="837.10" x2="462.35" y2="837.10" stroke="#000" stroke-width="1.6"/></g>
<g clip-path="url(#cu2)"><rect x="323.67" y="723.50" width="5.35" height="164.70" fill="url(#pPBS)" stroke="#000" stroke-width="1.9"/>
<line x1="322.72" y1="724.30" x2="329.97" y2="724.30" stroke="#000" stroke-width="1.3"/>
<rect x="329.02" y="705.00" width="5.35" height="183.20" fill="url(#pLip)" stroke="#000" stroke-width="1.9"/>
<line x1="328.07" y1="724.30" x2="335.32" y2="724.30" stroke="#000" stroke-width="1.3"/>
<rect x="334.37" y="723.50" width="5.35" height="164.70" fill="url(#pMyc)" stroke="#000" stroke-width="1.9"/>
<line x1="333.42" y1="724.30" x2="340.67" y2="724.30" stroke="#000" stroke-width="1.3"/>
<rect x="345.07" y="714.20" width="5.35" height="174.00" fill="url(#pCfL)" stroke="#000" stroke-width="1.9"/>
<line x1="344.12" y1="724.30" x2="351.37" y2="724.30" stroke="#000" stroke-width="1.3"/>
<rect x="350.42" y="688.90" width="5.35" height="199.30" fill="url(#pCf)" stroke="#000" stroke-width="1.9"/>
<line x1="349.47" y1="724.30" x2="356.72" y2="724.30" stroke="#000" stroke-width="1.3"/>
<line x1="326.35" y1="718.80" x2="326.35" y2="727.17" stroke="#000" stroke-width="1.6"/>
<line x1="324.95" y1="718.80" x2="327.75" y2="718.80" stroke="#000" stroke-width="1.6"/>
<line x1="331.70" y1="697.00" x2="331.70" y2="713.00" stroke="#000" stroke-width="1.6"/>
<line x1="330.30" y1="697.00" x2="333.10" y2="697.00" stroke="#000" stroke-width="1.6"/>
<line x1="337.05" y1="716.20" x2="337.05" y2="729.04" stroke="#000" stroke-width="1.6"/>
<line x1="335.65" y1="716.20" x2="338.44" y2="716.20" stroke="#000" stroke-width="1.6"/>
<line x1="347.75" y1="712.20" x2="347.75" y2="716.20" stroke="#000" stroke-width="1.6"/>
<line x1="346.35" y1="712.20" x2="349.14" y2="712.20" stroke="#000" stroke-width="1.6"/>
<line x1="353.10" y1="686.30" x2="353.10" y2="691.50" stroke="#000" stroke-width="1.6"/>
<line x1="351.70" y1="686.30" x2="354.50" y2="686.30" stroke="#000" stroke-width="1.6"/></g>
<text x="183.80" y="789.60" class="an" style="font-size:8.2px">*</text>
<text x="240.80" y="828.20" class="an" style="font-size:9px">*</text><text x="245.30" y="829.80" class="an" style="font-size:13px">#</text>
<text x="280.10" y="833.00" class="an" style="font-size:13px">#</text>
<text x="348.40" y="680.60" class="an" style="font-size:9px">*</text><text x="352.90" y="682.20" class="an" style="font-size:13px">#</text>
<text x="399.30" y="791.40" class="an" style="font-size:8.2px">*</text>
<rect x="475.4" y="683.20" width="14.7" height="11.2" rx="1.2" fill="url(#lpPBS)"/>
<rect x="475.4" y="683.20" width="14.7" height="11.2" rx="1.2" fill="none" stroke="#000" stroke-width="1.8"/>
<text x="498.3" y="693.80" class="lg">PBS</text>
<rect x="475.4" y="701.13" width="14.7" height="11.2" rx="1.2" fill="url(#lpLip)"/>
<rect x="475.4" y="701.13" width="14.7" height="11.2" rx="1.2" fill="none" stroke="#000" stroke-width="1.8"/>
<text x="498.3" y="711.82" class="lg">lipN</text>
<rect x="475.4" y="719.06" width="14.7" height="11.2" rx="1.2" fill="#fff"/>
<line x1="476.30" y1="722.78" x2="489.20" y2="722.78" stroke="#333" stroke-width="0.9"/>
<line x1="476.30" y1="726.54" x2="489.20" y2="726.54" stroke="#333" stroke-width="0.9"/>
<rect x="475.4" y="719.06" width="14.7" height="11.2" rx="1.2" fill="none" stroke="#000" stroke-width="1.8"/>
<text x="498.3" y="729.84" class="lg">Mycopar</text>
<rect x="475.4" y="736.99" width="14.7" height="11.2" rx="1.2" fill="#fff"/>
<line x1="478.88" y1="737.89" x2="478.88" y2="747.29" stroke="#333" stroke-width="0.9"/>
<line x1="482.75" y1="737.89" x2="482.75" y2="747.29" stroke="#333" stroke-width="0.9"/>
<rect x="486.62" y="737.89" width="2.58" height="9.40" fill="#aaa"/>
<rect x="475.4" y="736.99" width="14.7" height="11.2" rx="1.2" fill="none" stroke="#000" stroke-width="1.8"/>
<text x="498.3" y="747.86" class="lg">PAN-Lysate</text>
<rect x="475.4" y="754.92" width="14.7" height="11.2" rx="1.2" fill="url(#lpCfL)"/>
<rect x="475.4" y="754.92" width="14.7" height="11.2" rx="1.2" fill="none" stroke="#000" stroke-width="1.8"/>
<text x="498.3" y="765.88" class="lg">PAN-Cf+Lysate</text>
<rect x="475.4" y="772.85" width="14.7" height="11.2" rx="1.2" fill="url(#lpCf)"/>
<rect x="475.4" y="772.85" width="14.7" height="11.2" rx="1.2" fill="none" stroke="#000" stroke-width="1.8"/>
<text x="498.3" y="783.90" class="lg">PAN-Cf</text>
<text x="66.10" y="911" class="rl" textLength="26.6" lengthAdjust="spacingAndGlyphs">IFN-</text>
<text x="91.50" y="911" class="sym" textLength="6.8" lengthAdjust="spacingAndGlyphs">γ</text>
<path d="M119.20,905.50H128.20M123.70,901.10V909.90" stroke="#000" stroke-width="2.3" fill="none"/>
<path d="M173.50,905.50H182.50M178.00,901.10V909.90" stroke="#000" stroke-width="2.3" fill="none"/>
<path d="M227.30,905.50H236.30M231.80,901.10V909.90" stroke="#000" stroke-width="2.3" fill="none"/>
<path d="M281.90,905.50H290.90M286.40,901.10V909.90" stroke="#000" stroke-width="2.3" fill="none"/>
<rect x="337.30" y="904.15" width="4.8" height="2.7" fill="#000"/>
<rect x="391.00" y="904.15" width="4.8" height="2.7" fill="#000"/>
<rect x="445.20" y="904.15" width="4.8" height="2.7" fill="#000"/>
<text x="66.70" y="933" class="rl" textLength="23.2" lengthAdjust="spacingAndGlyphs">IL-2</text>
<path d="M119.20,928.50H128.20M123.70,924.10V932.90" stroke="#000" stroke-width="2.3" fill="none"/>
<path d="M173.50,928.50H182.50M178.00,924.10V932.90" stroke="#000" stroke-width="2.3" fill="none"/>
<rect x="229.00" y="927.15" width="4.8" height="2.7" fill="#000"/>
<rect x="284.10" y="927.15" width="4.8" height="2.7" fill="#000"/>
<path d="M334.90,928.50H343.90M339.40,924.10V932.90" stroke="#000" stroke-width="2.3" fill="none"/>
<path d="M388.70,928.50H397.70M393.20,924.10V932.90" stroke="#000" stroke-width="2.3" fill="none"/>
<rect x="445.10" y="927.15" width="4.8" height="2.7" fill="#000"/>
<text x="63.70" y="958.3" class="rl" textLength="32.6" lengthAdjust="spacingAndGlyphs">TNF-</text>
<text x="96.10" y="958.3" class="sym" textLength="9.0" lengthAdjust="spacingAndGlyphs">α</text>
<path d="M119.20,951.00H128.20M123.70,946.60V955.40" stroke="#000" stroke-width="2.3" fill="none"/>
<rect x="175.20" y="949.65" width="4.8" height="2.7" fill="#000"/>
<path d="M226.40,951.00H235.40M230.90,946.60V955.40" stroke="#000" stroke-width="2.3" fill="none"/>
<rect x="284.10" y="949.65" width="4.8" height="2.7" fill="#000"/>
<path d="M334.90,951.00H343.90M339.40,946.60V955.40" stroke="#000" stroke-width="2.3" fill="none"/>
<rect x="390.70" y="949.65" width="4.8" height="2.7" fill="#000"/>
<path d="M442.70,951.00H451.70M447.20,946.60V955.40" stroke="#000" stroke-width="2.3" fill="none"/>
<rect x="115.85" y="969.15" width="16.30" height="17.20" rx="1.3" fill="#EE1C00" stroke="#000" stroke-width="1.7"/>
<rect x="169.35" y="970.45" width="14.40" height="15.40" rx="1.3" fill="#D2A87A" stroke="#000" stroke-width="1.7"/>
<rect x="223.05" y="970.45" width="14.70" height="15.00" rx="1.3" fill="#877D86" stroke="#000" stroke-width="1.7"/>
<rect x="278.95" y="970.45" width="14.00" height="15.00" rx="1.3" fill="#00C400" stroke="#000" stroke-width="1.7"/>
<rect x="331.95" y="970.65" width="14.70" height="14.60" rx="1.3" fill="#42B5DA" stroke="#000" stroke-width="1.7"/>
<rect x="385.75" y="970.65" width="14.40" height="14.60" rx="1.3" fill="#0000F0" stroke="#000" stroke-width="1.7"/>
<rect x="439.85" y="970.65" width="14.70" height="14.60" rx="1.3" fill="#9A30E6" stroke="#000" stroke-width="1.7"/>
</svg></body></html>
